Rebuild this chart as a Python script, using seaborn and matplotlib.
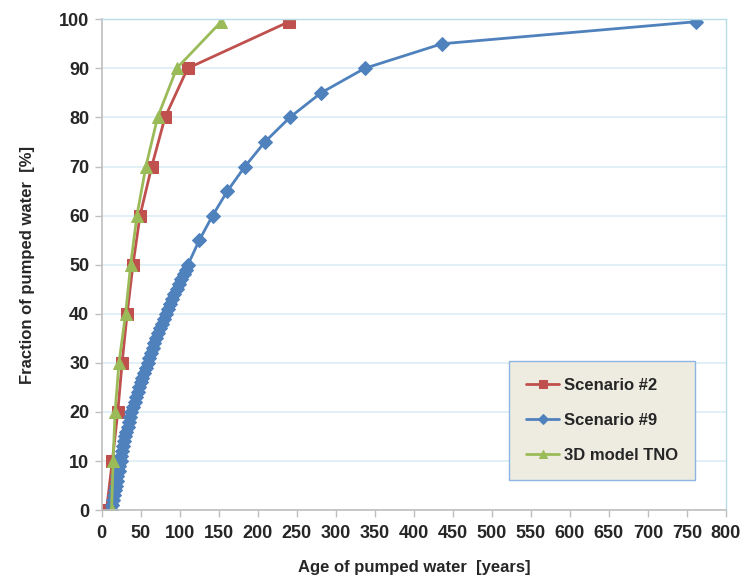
import matplotlib
matplotlib.use("Agg")
import matplotlib.pyplot as plt
import seaborn as sns
import pandas as pd

# Werte
frac_main = [0, 10, 20, 30, 40, 50, 60, 70, 80, 90, 99.5]
age_s2 = [6, 13.5, 20.5, 26, 32.5, 40, 49, 64, 81, 110, 240]
age_tno = [12.5, 14.5, 17, 22, 30.5, 37, 45, 56.5, 71.5, 96, 153]

frac_s9 = list(range(0, 51)) + [55, 60, 65, 70, 75, 80, 85, 90, 95, 99.5]
age_s9 = [12, 13, 14, 15.5, 16.5, 18, 19, 20, 21.5, 22.5,
          24, 25, 26, 27.5, 28.5, 30, 31.5, 33, 34.5, 36,
          38, 40, 42, 44, 46, 48, 50, 52, 54.5, 56.5,
          59, 61, 63, 65.5, 67.5, 70, 72.5, 75, 77, 79.5,
          82, 85, 88, 90.5, 93, 96, 99, 102, 105, 108,
          110.5, 125, 142, 161, 183.5, 209, 241, 281, 337, 436, 762]

series = [
    ("Scenario #2", age_s2, frac_main, "#C0504D", "s", 8),
    ("Scenario #9", age_s9, frac_s9, "#4F81BD", "D", 7),
    ("3D model TNO", age_tno, frac_main, "#9BBB59", "^", 9),
]

sns.set_theme(style="white")
plt.rcParams['font.family'] = ['Liberation Sans', 'DejaVu Sans']

fig = plt.figure(figsize=(7.43, 5.83), dpi=100)
ax = fig.add_axes([0.137, 0.125, 0.840, 0.842])

for name, xs, ys, col, mk, ms in series:
    df = pd.DataFrame({"age": xs, "frac": ys})
    sns.lineplot(data=df, x="age", y="frac", ax=ax, color=col, marker=mk,
                 markersize=ms, markeredgecolor=col, linewidth=2,
                 sort=False, estimator=None, label=name)

ax.set_xlim(0, 800)
ax.set_ylim(0, 100)
ax.set_xticks(range(0, 801, 50))
ax.set_yticks(range(0, 101, 10))
ax.yaxis.grid(True, color="#DCEEF5", linewidth=1.2)
ax.xaxis.grid(False)
ax.set_axisbelow(True)

for side in ["left", "bottom"]:
    ax.spines[side].set_color("#BFBFBF")
    ax.spines[side].set_linewidth(1.2)
for side in ["top", "right"]:
    ax.spines[side].set_color("#B7DDE8")
    ax.spines[side].set_linewidth(1.0)

ax.tick_params(axis="both", direction="out", length=5, width=1, color="#BFBFBF",
               labelsize=13, pad=4)
ax.tick_params(axis="x", bottom=True, pad=6)
ax.tick_params(axis="y", left=True)
for lab in ax.get_xticklabels() + ax.get_yticklabels():
    lab.set_fontweight("bold")

ax.set_xlabel("Age of pumped water  [years]", fontsize=12, fontweight="bold", labelpad=13)
ax.set_ylabel("Fraction of pumped water  [%]", fontsize=12, fontweight="bold", labelpad=17)

leg = ax.legend(loc="lower right", bbox_to_anchor=(0.964, 0.045), frameon=True,
                fancybox=False, facecolor="#EEECE1", edgecolor="#8DB4E2",
                prop={"weight": "bold", "size": 12}, handlelength=2.0,
                labelspacing=1.2, borderpad=1.0, handletextpad=0.3, markerscale=0.7)
leg.get_frame().set_linewidth(1.0)
leg.get_frame().set_alpha(1)

fig.savefig("out.png", dpi=100)
